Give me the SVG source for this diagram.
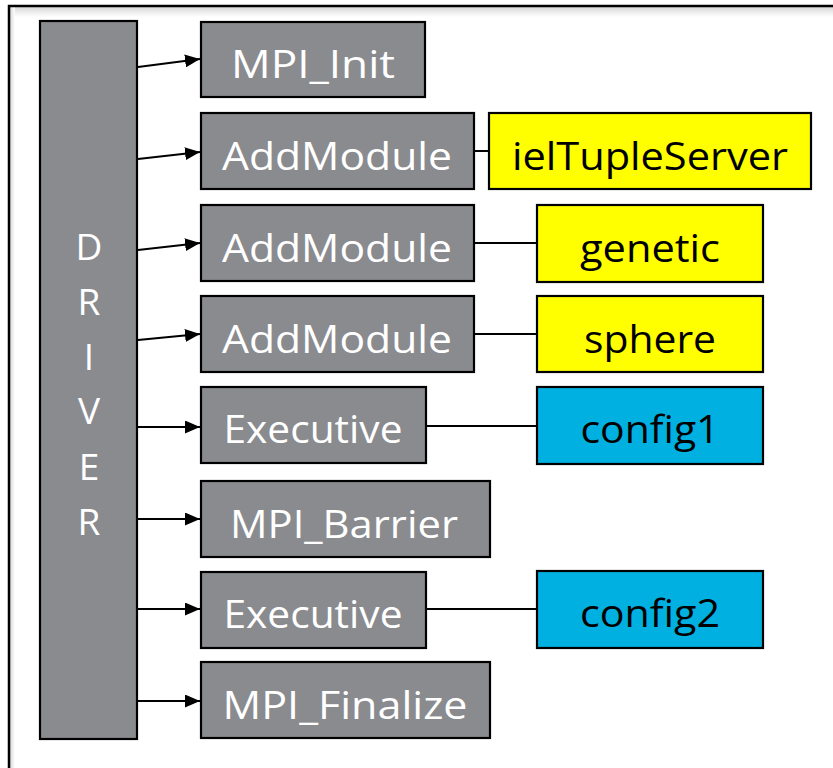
<svg xmlns="http://www.w3.org/2000/svg" width="833" height="768" viewBox="0 0 833 768">
<defs>
<linearGradient id="shTop" x1="0" y1="0" x2="0" y2="1"><stop offset="0" stop-color="#d8d8d8"/><stop offset="1" stop-color="#ffffff"/></linearGradient>
<linearGradient id="shLeft" x1="0" y1="0" x2="1" y2="0"><stop offset="0" stop-color="#d8d8d8"/><stop offset="1" stop-color="#ffffff"/></linearGradient>
<marker id="arr" markerUnits="userSpaceOnUse" markerWidth="15" markerHeight="13" refX="15" refY="6.5" orient="auto"><path d="M0,0 L15,6.5 L0,13 z" fill="#000"/></marker>
</defs>
<style>
.g{fill:#8a8b8f;stroke:#000;stroke-width:2.2}
.y{fill:#ffff00;stroke:#000;stroke-width:2.2}
.c{fill:#00b0e0;stroke:#000;stroke-width:2.2}
.wt{font-family:"Open Sans","DejaVu Sans",sans-serif;font-size:39px;fill:#fff;text-anchor:middle}
.bt{font-family:"Open Sans","DejaVu Sans",sans-serif;font-size:39px;fill:#000;text-anchor:middle}
.dt{font-family:"Open Sans","DejaVu Sans",sans-serif;font-size:37px;fill:#fff;text-anchor:middle}
.ln{stroke:#000;stroke-width:2;fill:none}
</style>
<rect x="0" y="0" width="833" height="768" fill="#fff"/>
<g id="frame">
<rect x="10" y="7" width="823" height="10" fill="url(#shTop)"/>
<rect x="10" y="7" width="5" height="761" fill="url(#shLeft)"/>
<path d="M9,770 L9,6 L835,6" fill="none" stroke="#000" stroke-width="2.5"/>
</g>
<g id="driver">
<rect class="g" x="40" y="21" width="97" height="718"/>
<text class="dt" x="89" y="260">D</text>
<text class="dt" x="89" y="315">R</text>
<text class="dt" x="89" y="370">I</text>
<text class="dt" x="89" y="424">V</text>
<text class="dt" x="89" y="480">E</text>
<text class="dt" x="89" y="535">R</text>
</g>
<g id="mpi_init"><rect class="g" x="201" y="22" width="224" height="75"/><text class="wt" x="313" y="78" textLength="164" lengthAdjust="spacingAndGlyphs">MPI_Init</text></g>
<g id="addmodule1"><rect class="g" x="201" y="113" width="273" height="76"/><text class="wt" x="337" y="170" textLength="230" lengthAdjust="spacingAndGlyphs">AddModule</text></g>
<g id="addmodule2"><rect class="g" x="201" y="205" width="273" height="76"/><text class="wt" x="337" y="262" textLength="230" lengthAdjust="spacingAndGlyphs">AddModule</text></g>
<g id="addmodule3"><rect class="g" x="201" y="296" width="273" height="76"/><text class="wt" x="337" y="353" textLength="230" lengthAdjust="spacingAndGlyphs">AddModule</text></g>
<g id="executive1"><rect class="g" x="201" y="387" width="225" height="76"/><text class="wt" x="313" y="443" textLength="179" lengthAdjust="spacingAndGlyphs">Executive</text></g>
<g id="mpi_barrier"><rect class="g" x="201" y="481" width="289" height="76"/><text class="wt" x="344" y="538" textLength="228" lengthAdjust="spacingAndGlyphs">MPI_Barrier</text></g>
<g id="executive2"><rect class="g" x="201" y="572" width="225" height="76"/><text class="wt" x="313" y="628" textLength="179" lengthAdjust="spacingAndGlyphs">Executive</text></g>
<g id="mpi_finalize"><rect class="g" x="201" y="662" width="289" height="76"/><text class="wt" x="345" y="719" textLength="245" lengthAdjust="spacingAndGlyphs">MPI_Finalize</text></g>
<g id="ieltupleserver"><rect class="y" x="489" y="113" width="322" height="76"/><text class="bt" x="650" y="170" textLength="276" lengthAdjust="spacingAndGlyphs">ielTupleServer</text></g>
<g id="genetic"><rect class="y" x="537" y="205" width="226" height="77"/><text class="bt" x="650" y="262" textLength="140" lengthAdjust="spacingAndGlyphs">genetic</text></g>
<g id="sphere"><rect class="y" x="537" y="296" width="226" height="76"/><text class="bt" x="650" y="353" textLength="132" lengthAdjust="spacingAndGlyphs">sphere</text></g>
<g id="config1"><rect class="c" x="537" y="387" width="226" height="77"/><text class="bt" x="650" y="443" textLength="139" lengthAdjust="spacingAndGlyphs">config1</text></g>
<g id="config2"><rect class="c" x="537" y="571" width="226" height="77"/><text class="bt" x="650" y="627" textLength="140" lengthAdjust="spacingAndGlyphs">config2</text></g>
<g id="connectors">
<line class="ln" x1="138" y1="67" x2="200" y2="59" marker-end="url(#arr)"/>
<line class="ln" x1="138" y1="159" x2="200" y2="152" marker-end="url(#arr)"/>
<line class="ln" x1="138" y1="250" x2="200" y2="243" marker-end="url(#arr)"/>
<line class="ln" x1="138" y1="340" x2="200" y2="334" marker-end="url(#arr)"/>
<line class="ln" x1="138" y1="427" x2="200" y2="427" marker-end="url(#arr)"/>
<line class="ln" x1="138" y1="519" x2="200" y2="519" marker-end="url(#arr)"/>
<line class="ln" x1="138" y1="609" x2="200" y2="609" marker-end="url(#arr)"/>
<line class="ln" x1="138" y1="701" x2="200" y2="701" marker-end="url(#arr)"/>
<line class="ln" x1="474" y1="151" x2="489" y2="151"/>
<line class="ln" x1="474" y1="243" x2="537" y2="243"/>
<line class="ln" x1="474" y1="334" x2="537" y2="334"/>
<line class="ln" x1="426" y1="426" x2="537" y2="426"/>
<line class="ln" x1="426" y1="609" x2="537" y2="609"/>
</g>
</svg>
